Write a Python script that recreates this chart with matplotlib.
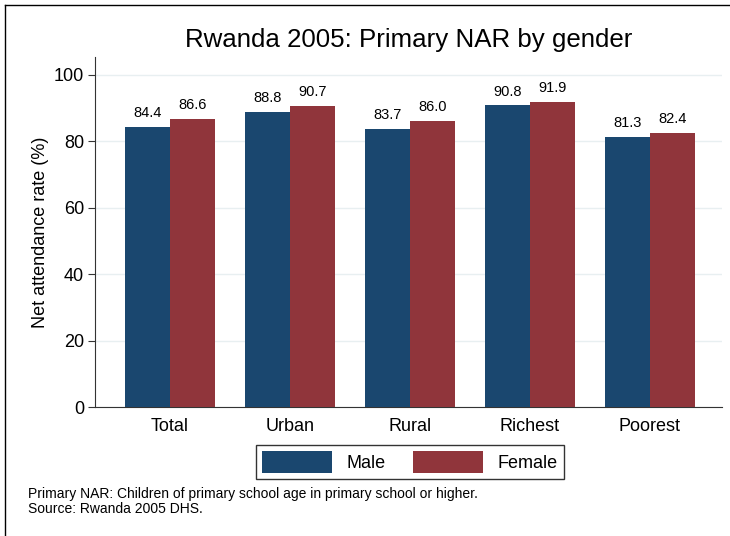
import numpy as np
import matplotlib
matplotlib.use("Agg")
import matplotlib.pyplot as plt
from matplotlib.lines import Line2D

plt.rcParams["font.family"] = ["Liberation Sans", "DejaVu Sans"]

# Daten
categories = ["Total", "Urban", "Rural", "Richest", "Poorest"]
male = [84.4, 88.8, 83.7, 90.8, 81.3]
female = [86.6, 90.7, 86.0, 91.9, 82.4]
yticks = [0, 20, 40, 60, 80, 100]

navy = "#1a476f"
maroon = "#90353b"

fig = plt.figure(figsize=(7.30, 5.36), dpi=100)
ax = fig.add_axes([95 / 730, 1 - 407 / 536, 627 / 730, 350 / 536])

x = np.arange(len(categories))
w = 0.375
b1 = ax.bar(x - w / 2, male, w, color=navy, label="Male", zorder=3)
b2 = ax.bar(x + w / 2, female, w, color=maroon, label="Female", zorder=3)

# Werte über den Balken
for bars, vals in ((b1, male), (b2, female)):
    for rect, v in zip(bars, vals):
        ax.annotate(f"{v:.1f}", (rect.get_x() + rect.get_width() / 2, v),
                    xytext=(0, 5), textcoords="offset points",
                    ha="center", va="bottom", fontsize=10.5)

ax.set_xlim(-0.625, 4.6)
ax.set_ylim(0, 105.4)
ax.set_yticks(yticks)
ax.set_xticks(x)
ax.set_xticklabels(categories, fontsize=13)
ax.tick_params(axis="x", length=0, pad=8)
ax.tick_params(axis="y", labelsize=13, length=5, color="#333333", pad=3)
ax.yaxis.grid(True, color="#e8eff1", linewidth=1, zorder=0)
ax.set_axisbelow(True)
for s in ("top", "right"):
    ax.spines[s].set_visible(False)
for s in ("left", "bottom"):
    ax.spines[s].set_color("#333333")
ax.set_ylabel("Net attendance rate (%)", fontsize=13, labelpad=3)

fig.text(409 / 730, 1 - 40 / 536, "Rwanda 2005: Primary NAR by gender",
         ha="center", va="center", fontsize=18.6)

leg = fig.legend(handles=[b1, b2], loc="center", ncol=2,
                 bbox_to_anchor=(410 / 730, 1 - 462 / 536),
                 fontsize=13, frameon=True, fancybox=False,
                 handlelength=3.9, handleheight=1.5, handletextpad=0.8,
                 columnspacing=1.5, borderpad=0.35, borderaxespad=0)
leg.get_frame().set_edgecolor("black")
leg.get_frame().set_linewidth(1.0)

fig.text(28 / 730, 1 - 494 / 536,
         "Primary NAR: Children of primary school age in primary school or higher.",
         ha="left", va="center", fontsize=10)
fig.text(28 / 730, 1 - 509 / 536, "Source: Rwanda 2005 DHS.",
         ha="left", va="center", fontsize=10)

# Rahmen oben und links
fig.add_artist(Line2D([5 / 730, 1], [1 - 5 / 536, 1 - 5 / 536], color="black", linewidth=1.0))
fig.add_artist(Line2D([5 / 730, 5 / 730], [0, 1 - 5 / 536], color="black", linewidth=1.0))

fig.savefig("out.png", dpi=100)
